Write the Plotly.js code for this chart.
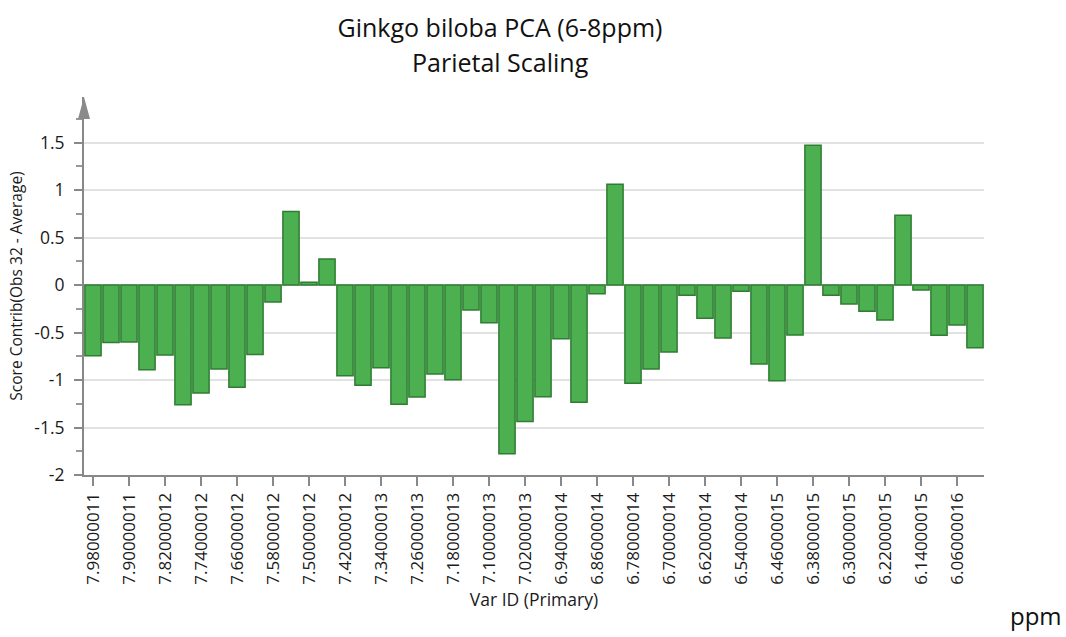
<!DOCTYPE html>
<html>
<head>
<meta charset="utf-8">
<script src="https://cdn.plot.ly/plotly-3.0.1.min.js"></script>
<style>html,body{margin:0;padding:0;background:#fff;}#chart{width:1066px;height:637px;}</style>
</head>
<body>
<div id="chart"></div>
<script>
// Categories (ppm variable IDs), one per bar
const categories = [
  "7.98000011","7.94000011","7.90000011","7.86000012","7.82000012","7.78000012","7.74000012","7.70000012",
  "7.66000012","7.62000012","7.58000012","7.54000012","7.50000012","7.46000012","7.42000012","7.38000013",
  "7.34000013","7.30000013","7.26000013","7.22000013","7.18000013","7.14000013","7.10000013","7.06000013",
  "7.02000013","6.98000014","6.94000014","6.90000014","6.86000014","6.82000014","6.78000014","6.74000014",
  "6.70000014","6.66000014","6.62000014","6.58000014","6.54000014","6.50000015","6.46000015","6.42000015",
  "6.38000015","6.34000015","6.30000015","6.26000015","6.22000015","6.18000015","6.14000015","6.10000016",
  "6.06000016","6.02000016"
];
// Score contribution values
const scoreContrib = [
  -0.745,-0.604,-0.600,-0.892,-0.738,-1.261,-1.138,-0.885,
  -1.075,-0.731,-0.179,0.773,0.028,0.274,-0.955,-1.054,
  -0.871,-1.254,-1.180,-0.938,-0.998,-0.263,-0.397,-1.777,
  -1.437,-1.177,-0.566,-1.233,-0.091,1.061,-1.033,-0.885,
  -0.706,-0.109,-0.351,-0.558,-0.067,-0.832,-1.008,-0.527,
  1.472,-0.109,-0.200,-0.277,-0.369,0.734,-0.053,-0.530,
  -0.421,-0.660
];
// Tick labels shown on the x axis
const xTickLabels = [
  "7.98000011","7.90000011","7.82000012","7.74000012","7.66000012","7.58000012","7.50000012",
  "7.42000012","7.34000013","7.26000013","7.18000013","7.10000013","7.02000013","6.94000014",
  "6.86000014","6.78000014","6.70000014","6.62000014","6.54000014","6.46000015","6.38000015",
  "6.30000015","6.22000015","6.14000015","6.06000016"
];
const yTickVals = [-2,-1.5,-1,-0.5,0,0.5,1,1.5];
const yTickText = ["-2","-1.5","-1","-0.5","0","0.5","1","1.5"];

const FONT = "'Open Sans', 'Noto Sans', sans-serif";
const W = 1066, H = 637;
const L = 84, R = 82, T = 97, B = 162;
const plotW = W - L - R, plotH = H - T - B;

const trace = {
  type: "bar",
  x: categories,
  y: scoreContrib,
  marker: {color: "#4caf50", line: {color: "#2e7d32", width: 1.5}},
  hoverinfo: "x+y"
};

const layout = {
  width: W, height: H,
  margin: {l: L, r: R, t: T, b: B, pad: 0},
  paper_bgcolor: "#ffffff",
  plot_bgcolor: "#ffffff",
  font: {family: FONT, color: "#1a1a1a", size: 17},
  showlegend: false,
  bargap: 0.1,
  title: {
    text: "Ginkgo biloba PCA (6-8ppm)",
    font: {family: FONT, size: 25, color: "#111"},
    xref: "container", yref: "container",
    x: 500 / W, xanchor: "center",
    y: 1 - 28 / H, yanchor: "middle"
  },
  xaxis: {
    type: "category",
    range: [-0.5, categories.length - 0.5],
    tickmode: "array",
    tickvals: xTickLabels,
    ticktext: xTickLabels,
    tickangle: -90,
    ticks: "outside", ticklen: 9, tickwidth: 1.5, tickcolor: "#888",
    tickfont: {family: FONT, size: 17, color: "#1a1a1a"},
    showline: true, linecolor: "#888", linewidth: 2,
    showgrid: false, zeroline: false,
    automargin: false,
    title: {text: "Var ID (Primary)", font: {family: FONT, size: 17.5, color: "#1a1a1a"}, standoff: 10}
  },
  yaxis: {
    range: [-2, -2 + 2 * plotH / (475 - 285)],
    tickmode: "array",
    tickvals: yTickVals,
    ticktext: yTickText,
    ticks: "outside", ticklen: 8, tickwidth: 1.5, tickcolor: "#888",
    ticklabelstandoff: 6,
    tickfont: {family: FONT, size: 17.5, color: "#1a1a1a"},
    minor: {dtick: 0.25, tick0: -2, ticks: "outside", ticklen: 6, tickwidth: 1.5, tickcolor: "#999", showgrid: false},
    showline: true, linecolor: "#888", linewidth: 2,
    showgrid: true, gridcolor: "#e2e2e2", gridwidth: 1.5,
    zeroline: true, zerolinecolor: "#cfcfcf", zerolinewidth: 1.5,
    automargin: false,
    title: {text: "Score Contrib(Obs 32 - Average)", font: {family: FONT, size: 15.5, color: "#1a1a1a"}, standoff: 8}
  },
  shapes: [
    {
      type: "path", xref: "paper", yref: "paper", layer: "above",
      path: "M " + (-6 / plotW) + "," + ((475 - 119) / plotH) +
            " L " + (0) + "," + (1 + 0 / plotH) +
            " L " + (6 / plotW) + "," + ((475 - 119) / plotH) + " Z",
      fillcolor: "#8a8a8a", line: {width: 0}
    }
  ],
  annotations: [
    {
      text: "Parietal Scaling", showarrow: false,
      xref: "paper", yref: "paper",
      x: (500 - L) / plotW, xanchor: "center",
      y: (475 - 62) / plotH, yanchor: "middle",
      font: {family: FONT, size: 25, color: "#111"}
    },
    {
      text: "ppm", showarrow: false,
      xref: "paper", yref: "paper",
      x: (1036 - L) / plotW, xanchor: "center",
      y: (475 - 615) / plotH, yanchor: "middle",
      font: {family: FONT, size: 24, color: "#111"}
    }
  ]
};

Plotly.newPlot("chart", [trace], layout, {displayModeBar: false, staticPlot: false});
</script>
</body>
</html>
